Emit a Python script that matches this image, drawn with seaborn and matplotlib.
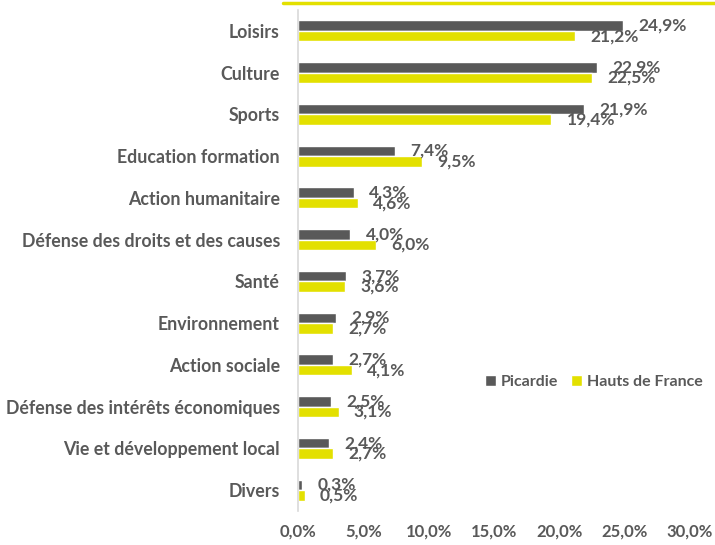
import matplotlib
matplotlib.use("Agg")
import matplotlib.pyplot as plt
import seaborn as sns
import pandas as pd
from matplotlib.lines import Line2D
from matplotlib.ticker import FuncFormatter

categories = ["Loisirs", "Culture", "Sports", "Education formation", "Action humanitaire",
              "Défense des droits et des causes", "Santé", "Environnement", "Action sociale",
              "Défense des intérêts économiques", "Vie et développement local", "Divers"]
picardie = [24.9, 22.9, 21.9, 7.4, 4.3, 4.0, 3.7, 2.9, 2.7, 2.5, 2.4, 0.3]
hdf = [21.2, 22.5, 19.4, 9.5, 4.6, 6.0, 3.6, 2.7, 4.1, 3.1, 2.7, 0.5]
series = ["Picardie", "Hauts de France"]
xticks = [0, 5, 10, 15, 20, 25, 30]

GRAY = "#595959"
YELLOW = "#E3E000"
TXT = "#595959"

sns.set_style("white")
plt.rcParams['font.family'] = ['Lato', 'DejaVu Sans']
plt.rcParams['font.weight'] = 'bold'

df = pd.DataFrame({
    "cat": categories * 2,
    "val": picardie + hdf,
    "series": [series[0]] * len(categories) + [series[1]] * len(categories),
})

fig = plt.figure(figsize=(7.15, 5.45), dpi=100)
ax = fig.add_axes([298/715, 1 - 511/545, (690-298)/715, (511-10)/545])
sns.barplot(data=df, y="cat", x="val", hue="series", orient="h",
            palette=[GRAY, YELLOW], width=0.5, ax=ax, saturation=1, legend=True)

for cont, vals in zip(ax.containers, [picardie, hdf]):
    ax.bar_label(cont, labels=[f"{v:.1f}%".replace(".", ",") for v in vals],
                 padding=11, fontsize=12.5, fontweight="bold", color=TXT)

ax.set_xlim(0, 30)
ax.set_xticks(xticks)
ax.xaxis.set_major_formatter(FuncFormatter(lambda v, p: f"{v:.1f}%".replace(".", ",")))
ax.set_xlabel("")
ax.set_ylabel("")
ax.tick_params(axis="x", length=0, pad=9, labelsize=12, labelcolor=TXT)
ax.tick_params(axis="y", length=0, pad=13, labelsize=12.8, labelcolor=TXT)
for lab in ax.get_xticklabels() + ax.get_yticklabels():
    lab.set_fontweight("bold")
for s in ["top", "right", "bottom"]:
    ax.spines[s].set_visible(False)
ax.spines["left"].set_color("#D9D9D9")
ax.spines["left"].set_linewidth(1.2)

leg = ax.legend(loc="center left", bbox_to_anchor=(474/715, 1 - 382/545),
                bbox_transform=fig.transFigure, ncol=2, frameon=False,
                handlelength=0.7, handleheight=0.7, handletextpad=0.3, columnspacing=0.8,
                borderpad=0.2, prop={"weight": "bold", "size": 11.5})
for t in leg.get_texts():
    t.set_color(TXT)

fig.add_artist(Line2D([283/715, 1.0], [1 - 3/545, 1 - 3/545], color=YELLOW, lw=2.5,
                      transform=fig.transFigure))

fig.savefig("out.png", dpi=100)
